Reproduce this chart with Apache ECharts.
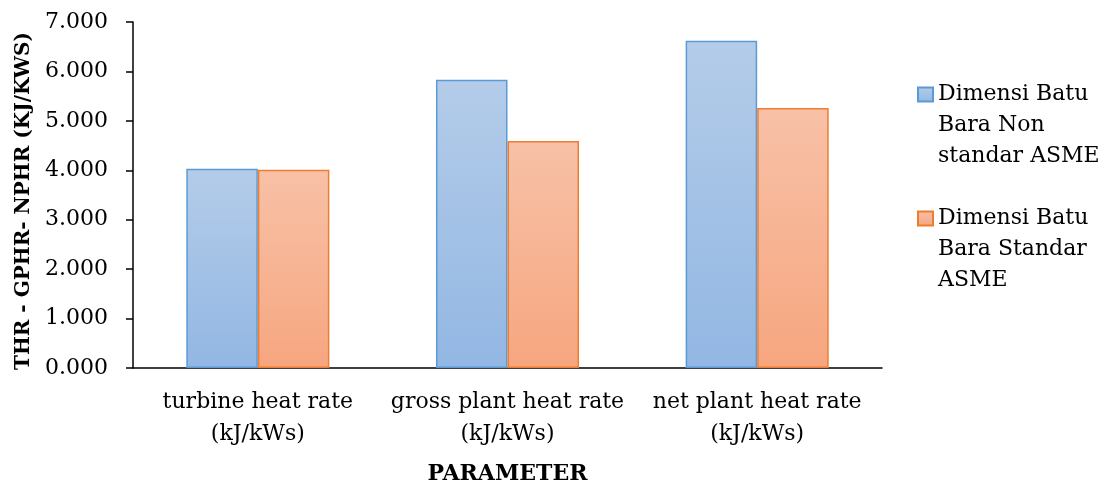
<!DOCTYPE html>
<html>
<head>
<meta charset="utf-8">
<script src="https://cdn.jsdelivr.net/npm/echarts@6/dist/echarts.min.js"></script>
<style>html,body{margin:0;padding:0;background:#fff}#c{width:1104px;height:486px}</style>
</head>
<body>
<div id="c"></div>
<script>
const categories = ['turbine heat rate\n(kJ/kWs)', 'gross plant heat rate\n(kJ/kWs)', 'net plant heat rate\n(kJ/kWs)'];
const seriesNames = ['Dimensi Batu\nBara Non\nstandar ASME', 'Dimensi Batu\nBara Standar\nASME'];
const nonStandar = [4.03, 5.83, 6.62];
const standar = [4.01, 4.59, 5.26];
const yTicks = { min: 0, max: 7, interval: 1 };

const FONT = 'DejaVu Serif';
const chart = echarts.init(document.getElementById('c'), null, { renderer: 'canvas' });
function grad(top, bottom) {
  return new echarts.graphic.LinearGradient(0, 0, 0, 1, [
    { offset: 0, color: top }, { offset: 1, color: bottom }
  ]);
}
chart.setOption({
  animation: false,
  backgroundColor: '#fff',
  textStyle: { fontFamily: FONT },
  grid: { left: 133, right: 222, top: 22, bottom: 118, containLabel: false, outerBoundsMode: 'none' },
  legend: {
    orient: 'vertical',
    left: 917, top: 17,
    padding: 0,
    itemWidth: 15, itemHeight: 14,
    itemGap: -31,
    icon: 'rect',
    formatter: name => '\n\n' + name,
    textStyle: { fontFamily: FONT, fontSize: 22, color: '#000', lineHeight: 31 },
    data: seriesNames
  },
  xAxis: {
    type: 'category',
    data: categories,
    name: 'PARAMETER',
    nameLocation: 'middle',
    nameGap: 95,
    nameTextStyle: { fontFamily: FONT, fontSize: 22, fontWeight: 'bold', color: '#000' },
    axisLine: { lineStyle: { color: '#000', width: 1.5 } },
    axisTick: { show: false },
    axisLabel: { interval: 0, fontFamily: FONT, fontSize: 22, color: '#000', lineHeight: 32, margin: 18 },
    splitLine: { show: false }
  },
  yAxis: {
    type: 'value',
    min: yTicks.min, max: yTicks.max, interval: yTicks.interval,
    name: 'THR - GPHR- NPHR (KJ/KWS)',
    nameLocation: 'middle',
    nameGap: 99,
    nameTextStyle: { fontFamily: FONT, fontSize: 20, fontWeight: 'bold', color: '#000', padding: [0, 12, 0, 0] },
    axisLine: { show: true, lineStyle: { color: '#000', width: 1.5 } },
    axisTick: { show: true, length: 7, lineStyle: { color: '#000', width: 1.5 } },
    axisLabel: { fontFamily: FONT, fontSize: 22, color: '#000', margin: 25, formatter: v => v.toFixed(3) },
    splitLine: { show: false }
  },
  series: [
    {
      name: seriesNames[0], type: 'bar', data: nonStandar,
      barGap: '0%', barCategoryGap: '42.7%',
      itemStyle: { color: grad('#b4cce9', '#92b7e3'), borderColor: '#5b9bd5', borderWidth: 1.5 }
    },
    {
      name: seriesNames[1], type: 'bar', data: standar,
      barGap: '0%', barCategoryGap: '42.7%',
      itemStyle: { color: grad('#f8c1a7', '#f6a67f'), borderColor: '#ed7d31', borderWidth: 1.5 }
    }
  ]
});
</script>
</body>
</html>
